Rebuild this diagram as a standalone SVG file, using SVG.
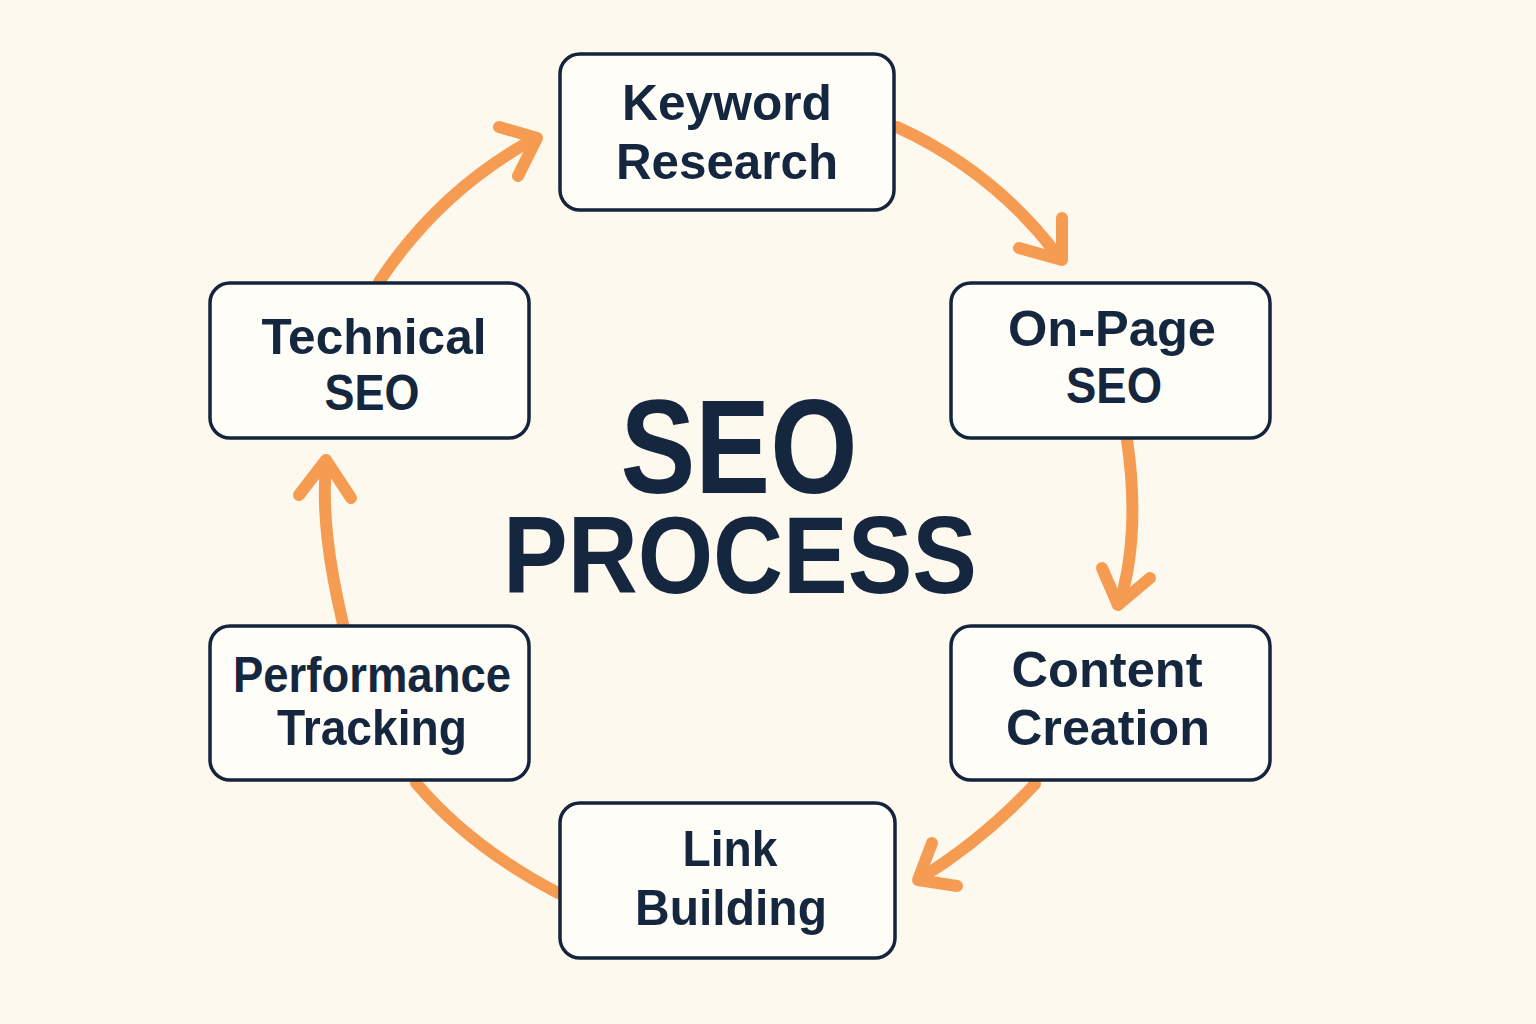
<svg xmlns="http://www.w3.org/2000/svg" width="1536" height="1024" viewBox="0 0 1536 1024">
<style>
.bg{fill:#FDF9EF}
.box{fill:#FFFDF7;stroke:#14243D;stroke-width:3.5}
.lbl{font-family:"Liberation Sans",Arial,sans-serif;font-weight:bold;font-size:50px;fill:#15263F;text-anchor:middle}
.title{font-family:"Liberation Sans",Arial,sans-serif;font-weight:bold;fill:#15263F;text-anchor:middle}
.arc{fill:none;stroke:#F69C52;stroke-width:12;stroke-linecap:round;stroke-linejoin:round}
</style>
<rect class="bg" x="0" y="0" width="1536" height="1024"/>
<g id="connectors">
  <path class="arc" d="M897,127 Q995,172 1058,256"/>
  <polyline class="arc" points="1062,218 1062,260 1019,248"/>
  <path class="arc" d="M1127,440 C1136,500 1134,560 1119,604"/>
  <polyline class="arc" points="1102,568 1118,605 1150,578"/>
  <path class="arc" d="M1035,784 Q985,838 921,878"/>
  <polyline class="arc" points="932,843 918,880 957,886"/>
  <path class="arc" d="M558,893 Q470,847 416,783"/>
  <path class="arc" d="M343,624 C328,560 322,510 326,463"/>
  <polyline class="arc" points="299,495 326,460 351,498"/>
  <path class="arc" d="M379,282 Q440,190 534,139"/>
  <polyline class="arc" points="499,127 537,138 518,176"/>
</g>
<g id="node-keyword">
  <rect class="box" x="560" y="54" width="334" height="156" rx="20"/>
  <text class="lbl" x="727" y="120" textLength="210" lengthAdjust="spacingAndGlyphs">Keyword</text>
  <text class="lbl" x="727" y="179" textLength="222" lengthAdjust="spacingAndGlyphs">Research</text>
</g>
<g id="node-onpage">
  <rect class="box" x="951" y="283" width="319" height="155" rx="20"/>
  <text class="lbl" x="1112" y="346" textLength="208" lengthAdjust="spacingAndGlyphs">On-Page</text>
  <text class="lbl" x="1114" y="403" textLength="96" lengthAdjust="spacingAndGlyphs">SEO</text>
</g>
<g id="node-content">
  <rect class="box" x="951" y="626" width="319" height="154" rx="20"/>
  <text class="lbl" x="1107" y="687" textLength="191" lengthAdjust="spacingAndGlyphs">Content</text>
  <text class="lbl" x="1108" y="745" textLength="204" lengthAdjust="spacingAndGlyphs">Creation</text>
</g>
<g id="node-link">
  <rect class="box" x="560" y="803" width="335" height="155" rx="20"/>
  <text class="lbl" x="730" y="866" textLength="95" lengthAdjust="spacingAndGlyphs">Link</text>
  <text class="lbl" x="731" y="925" textLength="192" lengthAdjust="spacingAndGlyphs">Building</text>
</g>
<g id="node-performance">
  <rect class="box" x="210" y="626" width="319" height="154" rx="20"/>
  <text class="lbl" x="372" y="692" textLength="278" lengthAdjust="spacingAndGlyphs">Performance</text>
  <text class="lbl" x="372" y="745" textLength="190" lengthAdjust="spacingAndGlyphs">Tracking</text>
</g>
<g id="node-technical">
  <rect class="box" x="210" y="283" width="319" height="155" rx="20"/>
  <text class="lbl" x="374" y="354" textLength="225" lengthAdjust="spacingAndGlyphs">Technical</text>
  <text class="lbl" x="372" y="410" textLength="95" lengthAdjust="spacingAndGlyphs">SEO</text>
</g>
<g id="title">
  <text class="title" x="739" y="493" font-size="133" textLength="237" lengthAdjust="spacingAndGlyphs">SEO</text>
  <text class="title" x="740" y="593" font-size="109" textLength="474" lengthAdjust="spacingAndGlyphs">PROCESS</text>
</g>
</svg>
